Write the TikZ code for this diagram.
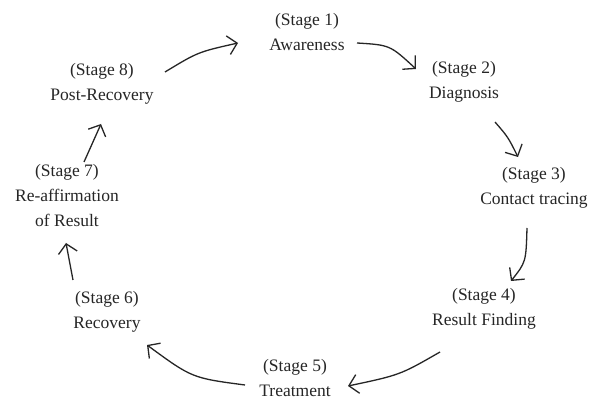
\documentclass[tikz,border=0pt]{standalone}
\usepackage{fontspec}
\setmainfont{Liberation Serif}
\usetikzlibrary{arrows.meta}
\begin{document}
\begin{tikzpicture}[x=1pt,y=-1pt,
  stage/.style={font=\fontsize{17.5}{25}\selectfont, align=center, inner sep=0pt, text=black!85},
  conn/.style={line width=1.3pt, draw=black!85, -{Straight Barb[length=9pt,width=19pt,line width=1.3pt]}}]
\useasboundingbox[fill=white] (0,0) rectangle (590,401);
\node[stage] (s1) at (307,32) {(Stage 1)\\Awareness};
\node[stage] (s2) at (464,82) {(Stage 2)\\Diagnosis};
\node[stage] (s3) at (534,188) {(Stage 3)\\Contact tracing};
\node[stage] (s4) at (484,309) {(Stage 4)\\Result Finding};
\node[stage] (s5) at (295,378) {(Stage 5)\\Treatment};
\node[stage] (s6) at (107,312) {(Stage 6)\\Recovery};
\node[stage] (s7) at (67,196) {(Stage 7)\\Re-affirmation\\of Result};
\node[stage] (s8) at (102,84) {(Stage 8)\\Post-Recovery};
\coordinate (a8s) at (165,72);  \coordinate (a8e) at (238,43);
\coordinate (a1s) at (357,43);  \coordinate (a1e) at (416,69);
\coordinate (a2s) at (495,122); \coordinate (a2e) at (518,157);
\coordinate (a3s) at (527,228); \coordinate (a3e) at (511,281);
\coordinate (a4s) at (440,352); \coordinate (a4e) at (348,386);
\coordinate (a5s) at (245,385); \coordinate (a5e) at (147,345);
\coordinate (a6s) at (73,280);  \coordinate (a6e) at (66,243);
\coordinate (a7s) at (84,162);  \coordinate (a7e) at (101,124);
\draw[conn] (a8s) .. controls (198,52) .. (a8e);
\draw[conn] (a1s) .. controls (390,45) .. (a1e);
\draw[conn] (a2s) .. controls (508,137) .. (a2e);
\draw[conn] (a3s) .. controls (526,262) .. (a3e);
\draw[conn] (a4s) .. controls (400,375) .. (a4e);
\draw[conn] (a5s) .. controls (192,378) .. (a5e);
\draw[conn] (a6s) -- (a6e);
\draw[conn] (a7s) -- (a7e);
\end{tikzpicture}
\end{document}
